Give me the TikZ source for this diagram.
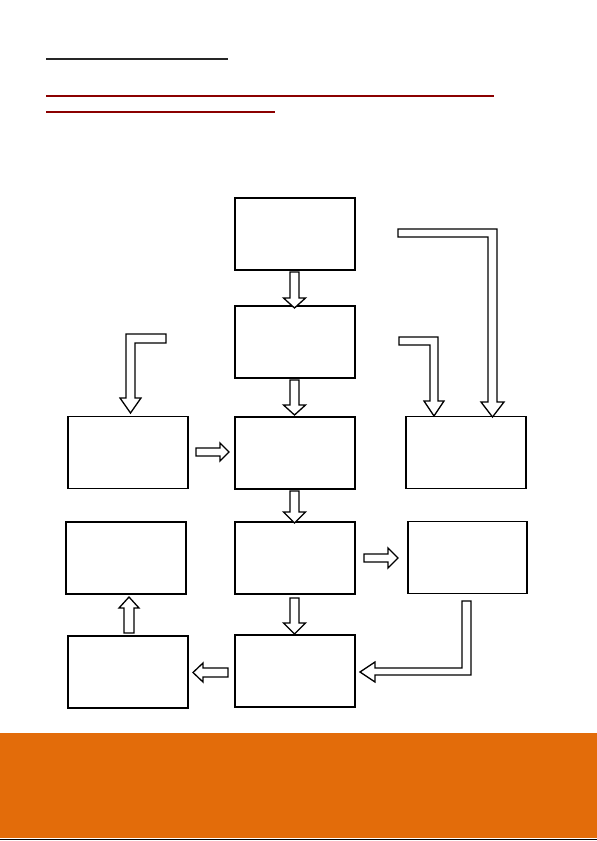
\documentclass[tikz,border=0pt]{standalone}
\usetikzlibrary{positioning}
\definecolor{bandorange}{HTML}{E36C0A}
\definecolor{linered}{HTML}{8B0000}
\tikzset{
  stepbox/.style={draw=black, line width=1.8pt, minimum width=120pt, minimum height=72pt, inner sep=0pt, fill=white},
  blockarrow/.style={draw=black, line width=1.3pt, fill=white, line join=miter},
}
\begin{document}
\begin{tikzpicture}[x=1pt, y=-1pt]
\useasboundingbox (0,0) rectangle (597,841);
\fill[white] (0,0) rectangle (597,841);
% header lines
\draw[black!85, line width=1.2pt] (46,59) -- (228,59);
\draw[linered, line width=1.2pt] (46,96) -- (494,96);
\draw[linered, line width=1.2pt] (46,112) -- (275,112);
% boxes
\node[stepbox] (c1) at (295,234) {};
\node[stepbox] (c2) at (295,342) {};
\node[stepbox] (c3) at (295,453) {};
\node[stepbox] (c4) at (295,558) {};
\node[stepbox] (c5) at (295,671) {};
\node[stepbox] (l1) at (128,452.5) {};
\node[stepbox] (l2) at (126,558) {};
\node[stepbox] (l3) at (128,672) {};
\node[stepbox] (r1) at (466,452.5) {};
\node[stepbox, minimum width=119pt] (r2) at (467.5,557.5) {};
% straight down arrows in the centre column
\foreach \yt/\yb/\yp in {272/298/308, 380/405/415, 491/512/523, 598/623/634}{
  \draw[blockarrow] (290,\yt) -- (299,\yt) -- (299,\yb) -- (305.5,\yb) -- (294.5,\yp) -- (283.5,\yb) -- (290,\yb) -- cycle;
}
% up arrow l3 -> l2
\draw[blockarrow] (124,633) -- (134,633) -- (134,608) -- (139,608) -- (129,597) -- (119,608) -- (124,608) -- cycle;
% right arrow l1 -> c3
\draw[blockarrow] (196,448) -- (220,448) -- (220,443) -- (229,452) -- (220,461) -- (220,456) -- (196,456) -- cycle;
% right arrow c4 -> r2
\draw[blockarrow] (364,554) -- (388,554) -- (388,548) -- (398,558) -- (388,568) -- (388,562) -- (364,562) -- cycle;
% left arrow c5 -> l3
\draw[blockarrow] (228,668) -- (228,677) -- (203,677) -- (203,682) -- (193,672.5) -- (203,663) -- (203,668) -- cycle;
% bent arrow r2 -> c5
\draw[blockarrow] (462,601) -- (471,601) -- (471,675) -- (375,675) -- (375,682) -- (360,672) -- (375,662) -- (375,668) -- (462,668) -- cycle;
% big bent arrow into r1
\draw[blockarrow] (398,229) -- (497,229) -- (497,402) -- (504,402) -- (492.5,417) -- (481,402) -- (488,402) -- (488,237) -- (398,237) -- cycle;
% small bent arrow into r1
\draw[blockarrow] (399,337) -- (438,337) -- (438,401) -- (444,401) -- (434,416) -- (424,401) -- (430,401) -- (430,345) -- (399,345) -- cycle;
% bent arrow into l1
\draw[blockarrow] (166,334) -- (126,334) -- (126,398) -- (120,398) -- (130.5,413) -- (141,398) -- (135,398) -- (135,343) -- (166,343) -- cycle;
% bottom band
\fill[bandorange] (0,733) rectangle (597,838);
\draw[black, line width=1.5pt] (0,839.5) -- (597,839.5);
\end{tikzpicture}
\end{document}
